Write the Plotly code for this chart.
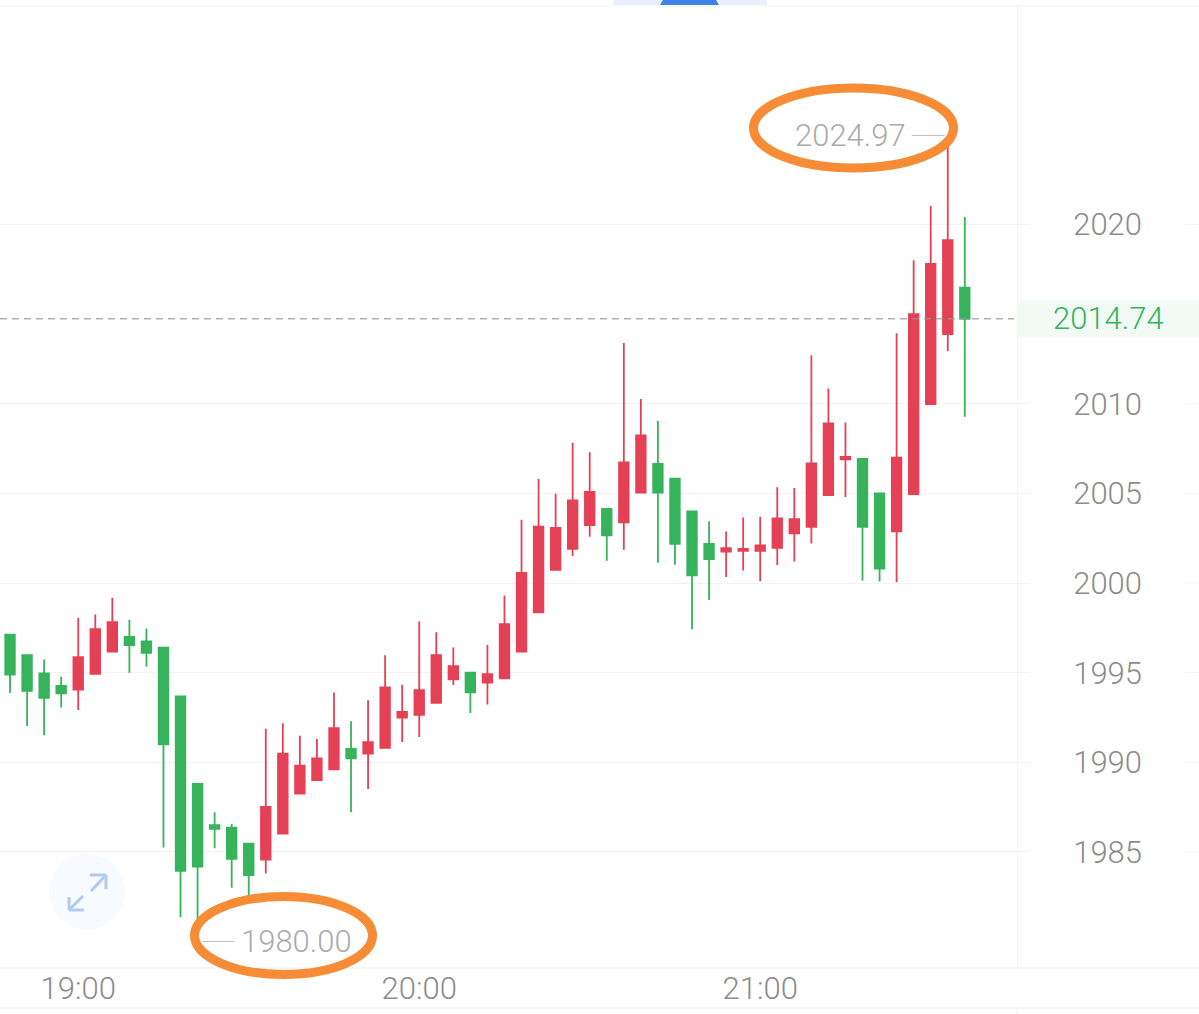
import pandas as pd
import plotly.graph_objects as go

START = "2023-05-04 18:48"
opens = [1997.12,1995.98,1994.96,1994.26,1994.05,1994.94,1996.17,1996.99,1996.75,1996.39,1993.68,1988.79,1986.49,1986.35,1985.46,
         1984.57,1986.02,1988.25,1989.01,1989.61,1990.74,1990.48,1990.8,1992.49,1992.64,1993.32,1994.63,1995.0,1994.44,1994.68,
         1996.17,1998.37,2000.74,2001.9,2003.23,2004.14,2003.39,2005.04,2006.64,2005.82,2004.0,2002.18,2001.75,2001.8,2001.8,
         2001.96,2002.77,2003.13,2004.9,2006.9,2006.92,2005.0,2002.88,2004.96,2009.98,2013.88,2016.48]
highs = [1997.12,1995.98,1995.74,1994.77,1998.06,1998.25,1999.18,1997.95,1997.47,1996.39,1993.68,1988.79,1987.21,1986.56,1985.46,
         1991.87,1992.18,1991.48,1991.3,1993.9,1992.29,1993.46,1995.97,1994.33,1997.86,1997.25,1996.41,1995.0,1996.54,1999.31,
         2003.53,2005.8,2004.98,2007.82,2007.29,2004.14,2013.39,2010.26,2009.04,2005.82,2004.0,2003.44,2002.88,2003.65,2003.7,
         2005.35,2005.3,2012.7,2010.85,2008.96,2006.92,2005.0,2013.94,2018.0,2021.04,2024.97,2020.42]
lows = [1993.87,1992.02,1991.51,1993.05,1992.92,1994.94,1996.17,1995.0,1995.33,1985.24,1981.36,1980.0,1985.2,1983.0,1982.54,
        1983.79,1986.02,1988.25,1989.01,1989.61,1987.21,1988.51,1990.8,1991.13,1991.41,1993.32,1994.31,1992.75,1993.23,1994.68,
        1996.17,1998.37,2000.74,2001.51,2002.58,2001.24,2001.86,2005.04,2001.13,2001.02,1997.42,1999.05,2000.33,2000.7,2000.1,
        2001.0,2001.2,2002.2,2004.9,2004.8,2000.13,2000.08,2000.04,2004.96,2009.98,2012.94,2009.27]
closes = [1994.89,1993.98,1993.6,1993.85,1995.86,1997.43,1997.82,1996.54,1996.1,1991.0,1983.94,1984.18,1986.28,1984.61,1983.71,
          1987.51,1990.48,1989.81,1990.22,1991.91,1990.22,1991.13,1994.18,1992.81,1994.02,1995.97,1995.37,1993.9,1994.92,1997.71,
          2000.57,2003.14,2003.08,2004.61,2005.08,2002.66,2006.73,2008.24,2005.04,2002.19,2000.43,2001.34,2001.94,2001.9,2002.1,
          2003.6,2003.56,2006.67,2008.9,2007.04,2003.13,2000.8,2007.0,2015.0,2017.8,2019.13,2014.74]
y_ticks = [1985, 1990, 1995, 2000, 2005, 2010, 2020]
x_ticks = ["2023-05-04 19:00", "2023-05-04 20:00", "2023-05-04 21:00"]
x_labels = ["19:00", "20:00", "21:00"]
high_label = "2024.97"
low_label = "1980.00"
last_label = "2014.74"

RED, GREEN = "#E44157", "#36B35B"
W, H, L_PLOT, T_PLOT, R_PLOT, B_PLOT = 1199, 1014, 0, 6, 1017, 967
FONT = "Roboto"
ORANGE = "#F68D36"
LINE = "#F3F3F3"
SIZE = 31

times = pd.date_range(START, periods=len(opens), freq="3min")
high_t = times[highs.index(max(highs))]
low_t = times[lows.index(min(lows))]


def px(x):
    return (x - L_PLOT) / (R_PLOT - L_PLOT)


def py(y):
    return 1 - (y - T_PLOT) / (B_PLOT - T_PLOT)


def paper_line(x0, y0, x1, y1, color, width, layer="below"):
    return dict(type="line", xref="paper", yref="paper", x0=px(x0), y0=py(y0), x1=px(x1), y1=py(y1),
                line=dict(color=color, width=width), layer=layer)


def ellipse(cx, cy, rx, ry):
    return dict(type="circle", xref="paper", yref="paper", x0=px(cx - rx), x1=px(cx + rx),
                y0=py(cy + ry), y1=py(cy - ry), line=dict(color=ORANGE, width=9), layer="above")


fig = go.Figure(go.Candlestick(
    x=times, open=opens, high=highs, low=lows, close=closes,
    increasing=dict(line=dict(color=RED, width=1.8), fillcolor=RED),
    decreasing=dict(line=dict(color=GREEN, width=1.8), fillcolor=GREEN),
    whiskerwidth=0, showlegend=False, hoverinfo="skip",
))

shapes = [
    # frame
    paper_line(0, 6, W, 6, LINE, 1),
    paper_line(0, 968, W, 968, LINE, 1.5),
    paper_line(0, 1008, W, 1008, LINE, 1.5),
    paper_line(R_PLOT, 1008, R_PLOT, H, LINE, 1.5),
    # tab at top
    dict(type="rect", xref="paper", yref="paper", x0=px(613), x1=px(767), y0=py(5), y1=py(0),
         fillcolor="#E9EFFB", line=dict(width=0), layer="below"),
    dict(type="path", xref="paper", yref="paper",
         path=f"M {px(660)} {py(5)} L {px(663)} {py(0)} L {px(716)} {py(0)} L {px(719)} {py(5)} Z",
         fillcolor="#3D82E6", line=dict(width=0), layer="below"),
    # last price box and line
    dict(type="rect", xref="paper", x0=px(R_PLOT), x1=px(W), yref="y", ysizemode="pixel",
         yanchor=closes[-1], y0=-18.5, y1=18.5, fillcolor="#F2FAF5", line=dict(width=0), layer="below"),
    dict(type="line", xref="paper", x0=0, x1=px(1014), yref="y", y0=closes[-1], y1=closes[-1],
         line=dict(color="rgba(150,150,150,0.75)", width=1.5, dash="7px,5px"), layer="above"),
    # leader lines for high and low
    dict(type="line", xref="x", xsizemode="pixel", xanchor=high_t, x0=-36, x1=-3,
         yref="y", y0=max(highs), y1=max(highs), line=dict(color="#BDBDBD", width=1), layer="above"),
    dict(type="line", xref="x", xsizemode="pixel", xanchor=low_t, x0=5, x1=37,
         yref="y", y0=min(lows), y1=min(lows), line=dict(color="#BDBDBD", width=1), layer="above"),
    # hand-drawn highlight ellipses
    ellipse(853.5, 128, 100, 40),
    ellipse(283.5, 935.5, 89, 39),
    # expand button
    dict(type="circle", xref="paper", yref="paper", x0=px(49), x1=px(125), y0=py(930), y1=py(854),
         fillcolor="#F7FAFE", line=dict(width=0), layer="below"),
    paper_line(91, 891, 106, 875, "#B3C9EF", 3, "above"),
    paper_line(90, 875, 106, 875, "#B3C9EF", 3, "above"),
    paper_line(106, 875, 106, 889, "#B3C9EF", 3, "above"),
    paper_line(83, 896, 69, 910, "#B3C9EF", 3, "above"),
    paper_line(69, 897, 69, 910, "#B3C9EF", 3, "above"),
    paper_line(69, 910, 84, 910, "#B3C9EF", 3, "above"),
]
# short grid stubs at the right edge
for v in y_ticks:
    shapes.append(dict(type="line", xref="paper", x0=px(1185), x1=px(W), yref="y", y0=v, y1=v,
                       line=dict(color=LINE, width=1), layer="below"))

annotations = [
    dict(x=high_t, y=max(highs), text=high_label, showarrow=False, xanchor="right", xshift=-40,
         font=dict(family=FONT, size=SIZE, color="#ABABAB", weight=300)),
    dict(x=low_t, y=min(lows), text=low_label, showarrow=False, xanchor="left", xshift=41,
         font=dict(family=FONT, size=SIZE, color="#ABABAB", weight=300)),
    dict(xref="paper", x=px(1108), xanchor="center", yref="y", y=closes[-1], text=last_label, showarrow=False,
         font=dict(family=FONT, size=SIZE, color=GREEN, weight=300)),
]

fig.update_layout(
    width=W, height=H, margin=dict(l=L_PLOT, r=W - R_PLOT, t=T_PLOT, b=H - B_PLOT),
    paper_bgcolor="white", plot_bgcolor="white", boxgap=0.2,
    shapes=shapes, annotations=annotations, showlegend=False,
    font=dict(family=FONT, size=SIZE, color="#8C8C8C", weight=300),
    xaxis=dict(
        type="date", range=["2023-05-04 18:46:14", "2023-05-04 21:45:11"],
        rangeslider=dict(visible=False), showgrid=False, zeroline=False,
        tickmode="array", tickvals=x_ticks, ticktext=x_labels, ticks="", showline=False,
    ),
    yaxis=dict(
        side="right", range=[1978.58, 2032.19], tickmode="array", tickvals=y_ticks,
        ticktext=[str(v) for v in y_ticks], showgrid=True, gridcolor=LINE, gridwidth=1,
        zeroline=False, ticks="outside", ticklen=12, tickcolor=LINE, tickwidth=1,
        ticklabelstandoff=37, showline=True, linecolor=LINE, linewidth=1,
    ),
)

fig.write_html("out.html", config=dict(displayModeBar=False),
               post_script="document.body.style.margin='0';document.body.style.overflow='hidden';")
